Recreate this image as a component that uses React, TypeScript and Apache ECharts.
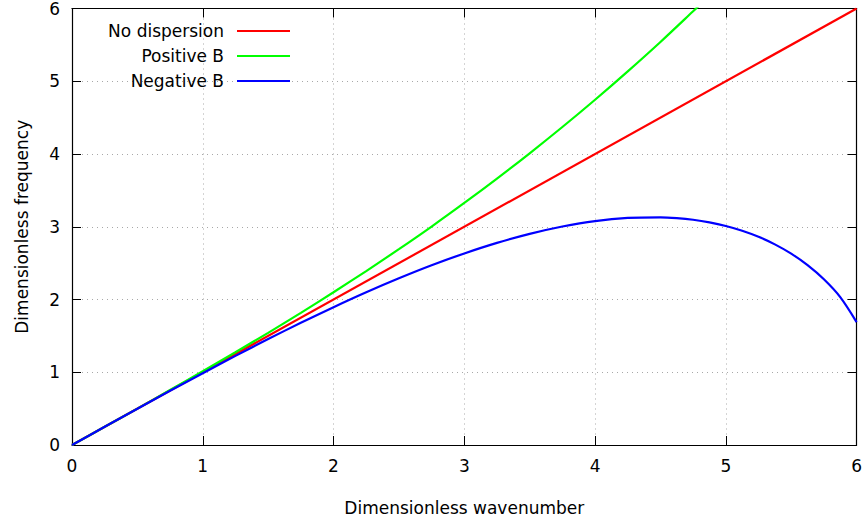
import React, { useEffect, useRef } from "react";
import * as echarts from "echarts";

const xTicks = [0, 1, 2, 3, 4, 5, 6];
const yTicks = [0, 1, 2, 3, 4, 5, 6];

const noDispersionK = [0, 6];
const noDispersionW = [0, 6];

const positiveK = [0, 0.25, 0.5, 0.75, 1, 1.25, 1.5, 1.75, 2, 2.25, 2.5, 2.75, 3, 3.25, 3.5, 3.75, 4, 4.25, 4.5, 4.75, 4.8];
const positiveW = [0, 0.25, 0.5, 0.755, 1.013, 1.275, 1.542, 1.817, 2.1, 2.391, 2.692, 3.003, 3.327, 3.662, 4.01, 4.371, 4.746, 5.136, 5.54, 5.962, 6.048];

const negativeK = [0, 0.25, 0.5, 0.75, 1, 1.25, 1.5, 1.75, 2, 2.25, 2.5, 2.75, 3, 3.25, 3.5, 3.75, 4, 4.25, 4.5, 4.625, 4.75, 4.875, 5, 5.125, 5.25, 5.375, 5.5, 5.625, 5.75, 5.875, 6];
const negativeW = [0, 0.25, 0.498, 0.745, 0.987, 1.225, 1.456, 1.68, 1.895, 2.1, 2.292, 2.471, 2.633, 2.778, 2.902, 3.003, 3.078, 3.121, 3.129, 3.118, 3.096, 3.06, 3.01, 2.945, 2.862, 2.758, 2.63, 2.472, 2.278, 2.033, 1.69];

const seriesNames = ["No dispersion", "Positive B", "Negative B"];
const seriesColors = ["#ff0000", "#00ff00", "#0000ff"];

const FONT = "DejaVu Sans";
const FS = 17;

export default function App() {
  const ref = useRef<HTMLDivElement>(null);
  useEffect(() => {
    if (!ref.current) return;
    const chart = echarts.init(ref.current, null, { renderer: "svg" });
    const zip = (a: number[], b: number[]) => a.map((v, i) => [v, b[i]]);
    const gridLine = { show: true, lineStyle: { color: "#a8a8a8", type: [1, 4] as any, width: 1 } };
    const tick = { show: true, inside: true, length: 9, lineStyle: { color: "#000", width: 1 } };
    const axisLine = { show: true, onZero: false, lineStyle: { color: "#000", width: 1.2 } };
    const legendBase = {
      orient: "horizontal" as const,
      align: "right" as const,
      right: 575,
      padding: 0,
      itemWidth: 53,
      itemHeight: 2.2,
      icon: "rect",
      textStyle: { fontFamily: FONT, fontSize: FS, color: "#000", padding: [0, 8, 0, 0] },
      selectedMode: false,
    };
    chart.setOption({
      animation: false,
      backgroundColor: "#fff",
      grid: { left: 72, top: 8, right: 8, bottom: 82, containLabel: false },
      legend: [
        { ...legendBase, data: [seriesNames[0]], top: 22.5 },
        { ...legendBase, data: [seriesNames[1]], top: 47.5 },
        { ...legendBase, data: [seriesNames[2]], top: 72.5 },
      ],
      xAxis: [
        {
          type: "value",
          min: xTicks[0],
          max: xTicks[xTicks.length - 1],
          interval: 1,
          name: "Dimensionless wavenumber",
          nameLocation: "middle",
          nameGap: 54,
          nameTextStyle: { fontFamily: FONT, fontSize: FS, color: "#000" },
          axisLine,
          axisTick: tick,
          axisLabel: { fontFamily: FONT, fontSize: FS, color: "#000", margin: 12 },
          splitLine: gridLine,
        },
        {
          type: "value",
          position: "top",
          min: xTicks[0],
          max: xTicks[xTicks.length - 1],
          interval: 1,
          axisLine,
          axisTick: tick,
          axisLabel: { show: false },
          splitLine: { show: false },
        },
      ],
      yAxis: [
        {
          type: "value",
          min: yTicks[0],
          max: yTicks[yTicks.length - 1],
          interval: 1,
          name: "Dimensionless frequency",
          nameLocation: "middle",
          nameGap: 42,
          nameTextStyle: { fontFamily: FONT, fontSize: FS, color: "#000" },
          axisLine,
          axisTick: tick,
          axisLabel: { fontFamily: FONT, fontSize: FS, color: "#000", margin: 12 },
          splitLine: gridLine,
        },
        {
          type: "value",
          position: "right",
          min: yTicks[0],
          max: yTicks[yTicks.length - 1],
          interval: 1,
          axisLine,
          axisTick: tick,
          axisLabel: { show: false },
          splitLine: { show: false },
        },
      ],
      series: [
        { name: seriesNames[0], data: zip(noDispersionK, noDispersionW) },
        { name: seriesNames[1], data: zip(positiveK, positiveW), smooth: 0.3 },
        { name: seriesNames[2], data: zip(negativeK, negativeW), smooth: 0.3 },
      ].map((s, i) => ({
        ...s,
        type: "line",
        symbol: "none",
        clip: true,
        color: seriesColors[i],
        lineStyle: { color: seriesColors[i], width: 2.2 },
        z: 3 + i,
      })),
    });
    return () => chart.dispose();
  }, []);
  return <div ref={ref} style={{ position: "absolute", left: 0, top: 0, width: 865, height: 527 }} />;
}
